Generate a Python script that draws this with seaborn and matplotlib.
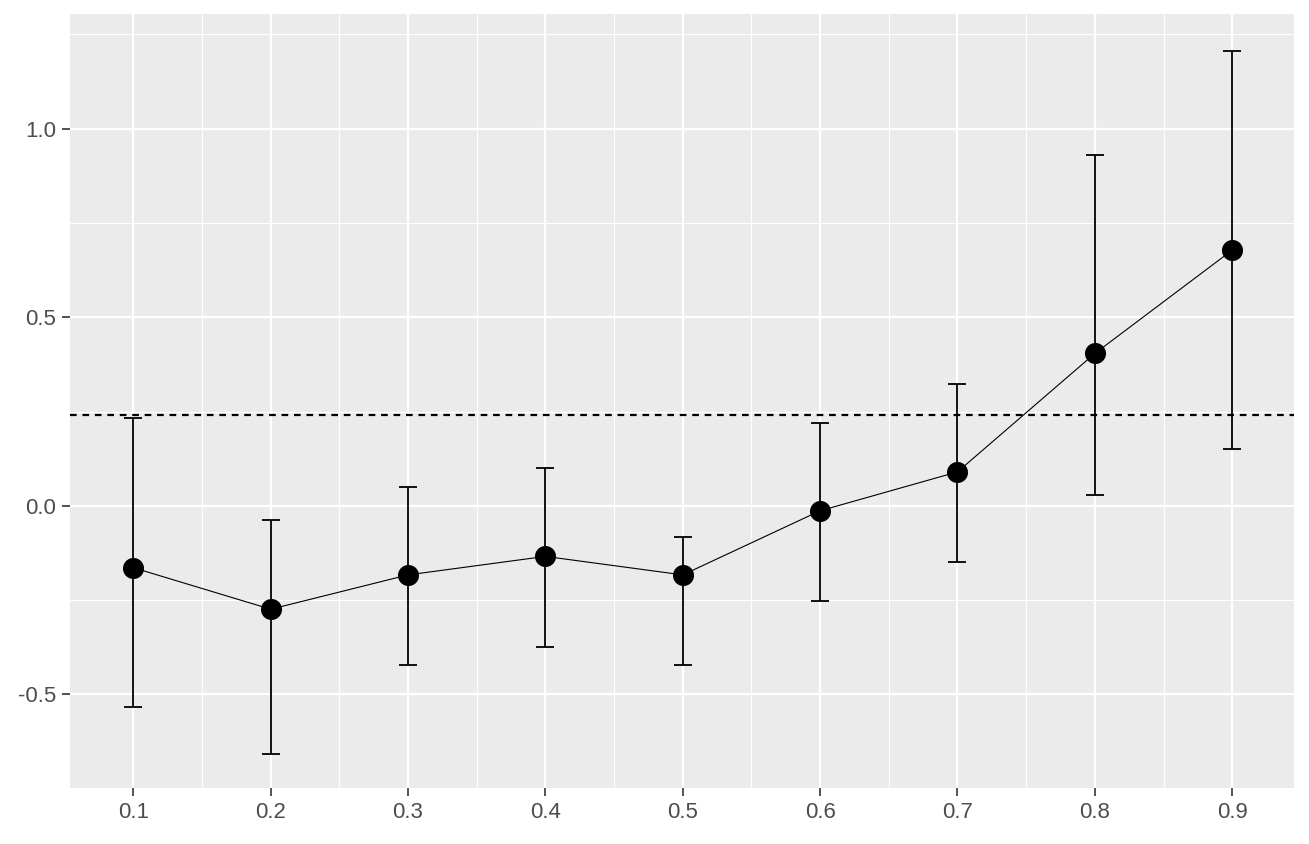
import numpy as np
import pandas as pd
import seaborn as sns
import matplotlib.pyplot as plt
from matplotlib.ticker import FixedLocator

# values
quantile = [0.1, 0.2, 0.3, 0.4, 0.5, 0.6, 0.7, 0.8, 0.9]
estimate = [-0.164, -0.274, -0.183, -0.134, -0.183, -0.013, 0.090, 0.404, 0.678]
upper = [0.234, -0.037, 0.050, 0.100, -0.083, 0.220, 0.323, 0.929, 1.207]
lower = [-0.533, -0.657, -0.422, -0.373, -0.422, -0.252, -0.148, 0.029, 0.151]
ref_line = 0.241

df = pd.DataFrame({'q': quantile, 'est': estimate, 'lo': lower, 'hi': upper})

sns.set_theme(style='darkgrid')
plt.rcParams['font.family'] = ['Liberation Sans', 'DejaVu Sans']

fig = plt.figure(figsize=(13.09, 8.44), dpi=100)
ax = fig.add_axes([70/1309, 1 - 788/844, (1294-70)/1309, (788-14)/844])
ax.set_facecolor('#EBEBEB')

# error bars (asymmetric)
yerr = np.array([df['est'] - df['lo'], df['hi'] - df['est']])
ax.errorbar(df['q'], df['est'], yerr=yerr, fmt='none', ecolor='black',
            elinewidth=1.3, capsize=6.5, capthick=1.3, zorder=3)

sns.lineplot(data=df, x='q', y='est', color='black', linewidth=0.8, ax=ax, zorder=4)
sns.scatterplot(data=df, x='q', y='est', color='black', s=230, edgecolor='black',
                linewidth=0, ax=ax, zorder=5)

ax.axhline(ref_line, color='black', linewidth=1.6, dashes=(3.0, 2.6), zorder=2)

ax.set_xlim(0.0539, 0.945)
ax.set_ylim(-0.748, 1.304)
ax.xaxis.set_major_locator(FixedLocator(quantile))
ax.xaxis.set_minor_locator(FixedLocator([0.15, 0.25, 0.35, 0.45, 0.55, 0.65, 0.75, 0.85]))
ax.yaxis.set_major_locator(FixedLocator([-0.5, 0.0, 0.5, 1.0]))
ax.yaxis.set_minor_locator(FixedLocator([-0.25, 0.25, 0.75, 1.25]))
ax.set_xticklabels([f'{v:.1f}' for v in quantile])
ax.set_yticklabels(['-0.5', '0.0', '0.5', '1.0'])

ax.grid(which='major', color='white', linewidth=1.6)
ax.grid(which='minor', color='white', linewidth=0.8)
ax.set_axisbelow(True)
ax.tick_params(which='major', length=6, width=1.2, color='#333333',
               labelsize=16, labelcolor='#4D4D4D', pad=4, direction='out',
               bottom=True, left=True)
ax.tick_params(which='minor', length=0)
for s in ax.spines.values():
    s.set_visible(False)
ax.set_xlabel('')
ax.set_ylabel('')

fig.savefig('out.png', dpi=100, facecolor='white')
